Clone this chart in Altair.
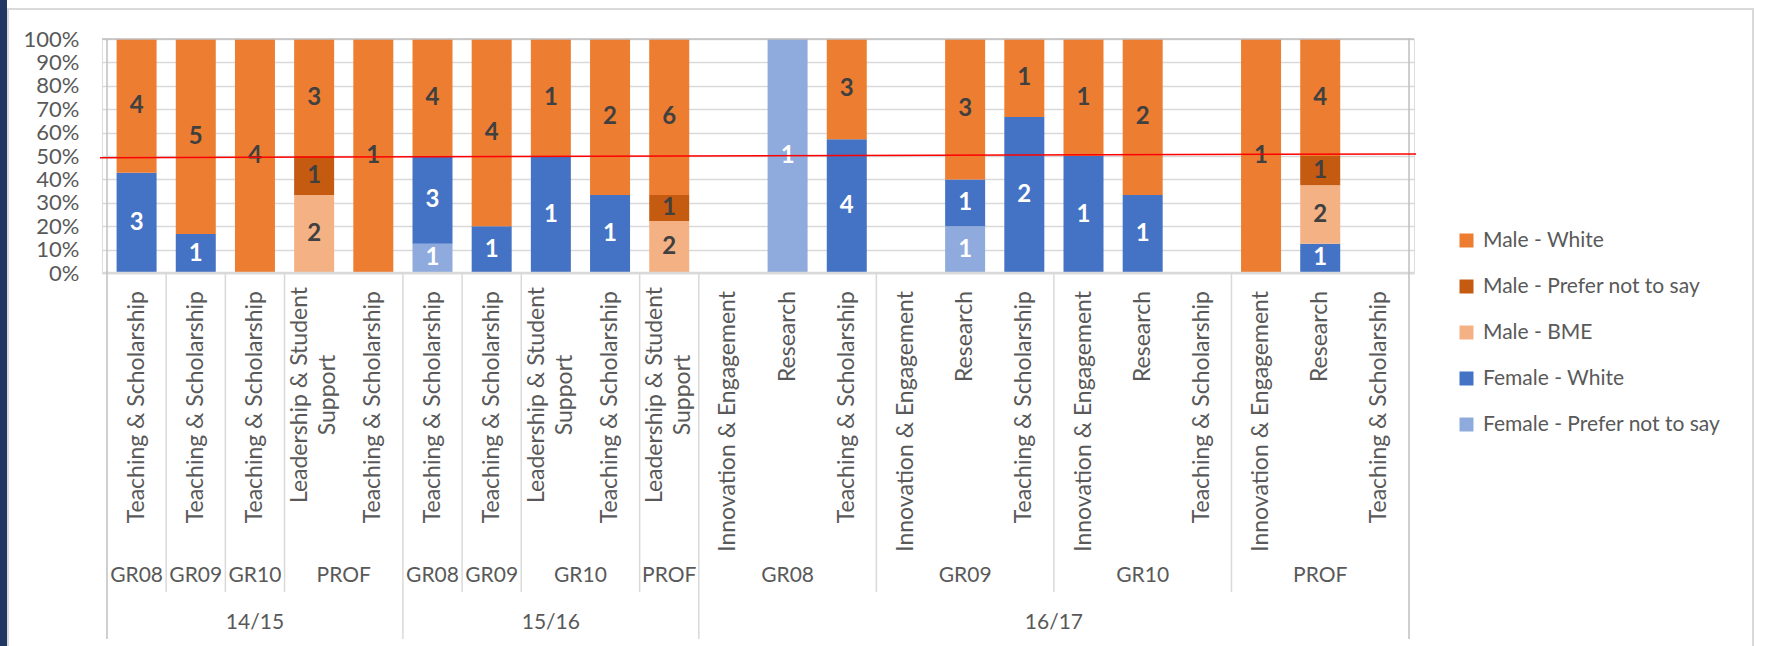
import altair as alt
import pandas as pd

# ---- data -------------------------------------------------------------
years = ["14/15"] * 5 + ["15/16"] * 5 + ["16/17"] * 12
grades = ["GR08", "GR09", "GR10", "PROF", "PROF",
          "GR08", "GR09", "GR10", "GR10", "PROF",
          "GR08", "GR08", "GR08", "GR09", "GR09", "GR09",
          "GR10", "GR10", "GR10", "PROF", "PROF", "PROF"]
families = ["Teaching & Scholarship", "Teaching & Scholarship", "Teaching & Scholarship",
            "Leadership & Student\nSupport", "Teaching & Scholarship",
            "Teaching & Scholarship", "Teaching & Scholarship", "Leadership & Student\nSupport",
            "Teaching & Scholarship", "Leadership & Student\nSupport",
            "Innovation & Engagement", "Research", "Teaching & Scholarship",
            "Innovation & Engagement", "Research", "Teaching & Scholarship",
            "Innovation & Engagement", "Research", "Teaching & Scholarship",
            "Innovation & Engagement", "Research", "Teaching & Scholarship"]

female_pns   = [0, 0, 0, 0, 0,  1, 0, 0, 0, 0,  0, 1, 0,  0, 1, 0,  0, 0, 0,  0, 0, 0]
female_white = [3, 1, 0, 0, 0,  3, 1, 1, 1, 0,  0, 0, 4,  0, 1, 2,  1, 1, 0,  0, 1, 0]
male_bme     = [0, 0, 0, 2, 0,  0, 0, 0, 0, 2,  0, 0, 0,  0, 0, 0,  0, 0, 0,  0, 2, 0]
male_pns     = [0, 0, 0, 1, 0,  0, 0, 0, 0, 1,  0, 0, 0,  0, 0, 0,  0, 0, 0,  0, 1, 0]
male_white   = [4, 5, 4, 3, 1,  4, 4, 1, 2, 6,  0, 0, 3,  0, 3, 1,  1, 2, 0,  1, 4, 0]

series_names = ["Female - Prefer not to say", "Female - White", "Male - BME",
                "Male - Prefer not to say", "Male - White"]
series_values = [female_pns, female_white, male_bme, male_pns, male_white]
series_colors = ["#8FAADC", "#4472C4", "#F4B183", "#C55A11", "#ED7D31"]
legend_order = ["Male - White", "Male - Prefer not to say", "Male - BME",
                "Female - White", "Female - Prefer not to say"]

y_ticks = [0.0, 0.1, 0.2, 0.3, 0.4, 0.5, 0.6, 0.7, 0.8, 0.9, 1.0]
target_line = [0.493, 0.509]   # red reference line (left, right)

# ---- tables -----------------------------------------------------------
n = len(years)
rows = []
for s, (name, vals) in enumerate(zip(series_names, series_values)):
    for i in range(n):
        if vals[i] > 0:
            rows.append({"col": i, "series": name, "count": vals[i], "ord": s})
bars_df = pd.DataFrame(rows)

cats_df = pd.DataFrame({"col": list(range(n)), "year": years, "grade": grades,
                        "family": families})
cats_df["multi"] = cats_df["family"].str.contains("\n")

# separators between category groups
sep_rows = [{"pos": -0.5, "level": "edge"}, {"pos": n - 0.5, "level": "edge"}]
for i in range(1, n):
    if years[i] != years[i - 1]:
        sep_rows.append({"pos": i - 0.5, "level": "year"})
    elif grades[i] != grades[i - 1]:
        sep_rows.append({"pos": i - 0.5, "level": "grade"})
sep_df = pd.DataFrame(sep_rows)

ref_df = pd.DataFrame({"y": [target_line[0]], "y2": [target_line[1]]})
one = pd.DataFrame({"a": [0]})

# ---- layout constants (pixels) ----------------------------------------
W, H = 1312, 234
FONT = "Lato"
GRAY = "#595959"

xscale = alt.Scale(domain=[-0.5, n - 0.5], nice=False, zero=False)
yscale = alt.Scale(domain=[0, 1], nice=False)
yaxis = alt.Axis(values=y_ticks, format=".0%", title=None, domain=False, ticks=False,
                 labelOverlap=False, labelFontSize=22, labelColor=GRAY, labelFont=FONT,
                 labelPadding=23, gridColor="#D9D9D9", gridWidth=1.5)

base_bars = alt.Chart(bars_df)

bars = base_bars.mark_bar(size=40).encode(
    x=alt.X("col:Q", scale=xscale, axis=None),
    y=alt.Y("count:Q", stack="normalize", scale=yscale, axis=yaxis),
    color=alt.Color("series:N",
                    scale=alt.Scale(domain=legend_order,
                                    range=[series_colors[series_names.index(s)] for s in legend_order]),
                    legend=alt.Legend(title=None, orient="none", legendX=1354, legendY=191,
                                      symbolType="square", symbolSize=196, symbolStrokeWidth=0,
                                      labelFontSize=21, labelFont=FONT, labelColor=GRAY,
                                      labelLimit=500,
                                      rowPadding=24, labelOffset=6, padding=0)),
    order=alt.Order("ord:Q", sort="ascending"),
)

labels = base_bars.transform_stack(
    stack="count", groupby=["col"], as_=["y0", "y1"], offset="normalize",
    sort=[alt.SortField("ord", order="ascending")]
).transform_calculate(
    mid="(datum.y0 + datum.y1) / 2",
    tcolor="indexof(datum.series, 'Female') >= 0 ? 'white' : '#404040'"
).mark_text(fontSize=24, fontWeight="bold", font=FONT, baseline="middle").encode(
    x=alt.X("col:Q", scale=xscale, axis=None),
    y=alt.Y("mid:Q", scale=yscale, axis=yaxis),
    text=alt.Text("count:Q"),
    color=alt.Color("tcolor:N", scale=None),
)

# frame of the plot area
frame_top = alt.Chart(one).mark_rule(color="#BFBFBF", strokeWidth=1.5).encode(
    x=alt.value(0), x2=alt.value(W), y=alt.value(0))
axis_base = alt.Chart(one).mark_rule(color="#D9D9D9", strokeWidth=2.5).encode(
    x=alt.value(0), x2=alt.value(W), y=alt.value(H))

seps = alt.Chart(sep_df)
sep_edge = seps.transform_filter("datum.level == 'edge'").mark_rule(
    color="#BFBFBF", strokeWidth=1.5).encode(
    x=alt.X("pos:Q", scale=xscale, axis=None), y=alt.value(0), y2=alt.value(600))
sep_year = seps.transform_filter("datum.level == 'year'").mark_rule(
    color="#D9D9D9", strokeWidth=1.5).encode(
    x=alt.X("pos:Q", scale=xscale, axis=None), y=alt.value(H), y2=alt.value(600))
sep_grade = seps.transform_filter("datum.level == 'grade'").mark_rule(
    color="#D9D9D9", strokeWidth=1.5).encode(
    x=alt.X("pos:Q", scale=xscale, axis=None), y=alt.value(H), y2=alt.value(553))

cats = alt.Chart(cats_df)
fam_single = cats.transform_filter("!datum.multi").mark_text(
    angle=270, align="right", baseline="middle", fontSize=23, font=FONT, color=GRAY
).encode(x=alt.X("col:Q", scale=xscale, axis=None), y=alt.value(252), text="family:N")
fam_multi = cats.transform_filter("datum.multi").mark_text(
    angle=270, align="center", baseline="middle", fontSize=23, font=FONT, color=GRAY,
    lineBreak="\n", lineHeight=28, dy=-14
).encode(x=alt.X("col:Q", scale=xscale, axis=None), y=alt.value(356), text="family:N")

grade_lbl = cats.transform_aggregate(
    mid="mean(col)", groupby=["year", "grade"]
).mark_text(fontSize=21, font=FONT, color=GRAY, baseline="middle").encode(
    x=alt.X("mid:Q", scale=xscale, axis=None), y=alt.value(537), text="grade:N")
year_lbl = cats.transform_aggregate(
    mid="mean(col)", groupby=["year"]
).mark_text(fontSize=21, font=FONT, color=GRAY, baseline="middle").encode(
    x=alt.X("mid:Q", scale=xscale, axis=None), y=alt.value(584), text="year:N")

ref = alt.Chart(ref_df).mark_rule(color="#FF0000", strokeWidth=1.5).encode(
    x=alt.value(-2), x2=alt.value(W + 2),
    y=alt.Y("y:Q", scale=yscale, axis=yaxis), y2="y2:Q")

# outer chart frame and navy strip
outer = alt.Chart(one).mark_rect(fillOpacity=0, stroke="#D9D9D9", strokeWidth=2).encode(
    x=alt.value(-94), x2=alt.value(1651), y=alt.value(-30), y2=alt.value(620))
strip = alt.Chart(one).mark_rect(fill="#1F3864").encode(
    x=alt.value(-102), x2=alt.value(-95), y=alt.value(-39), y2=alt.value(620))

chart = alt.layer(
    outer, strip, bars, frame_top, axis_base, sep_edge, sep_year, sep_grade,
    labels, ref, fam_single, fam_multi, grade_lbl, year_lbl
).properties(
    width=W, height=H,
    autosize=alt.AutoSizeParams(type="none"),
    padding={"left": 102, "top": 39, "right": 355, "bottom": 373},
).configure_view(stroke=None).configure(background="white")

chart.save("out.html", embed_options={"renderer": "svg", "actions": False})
